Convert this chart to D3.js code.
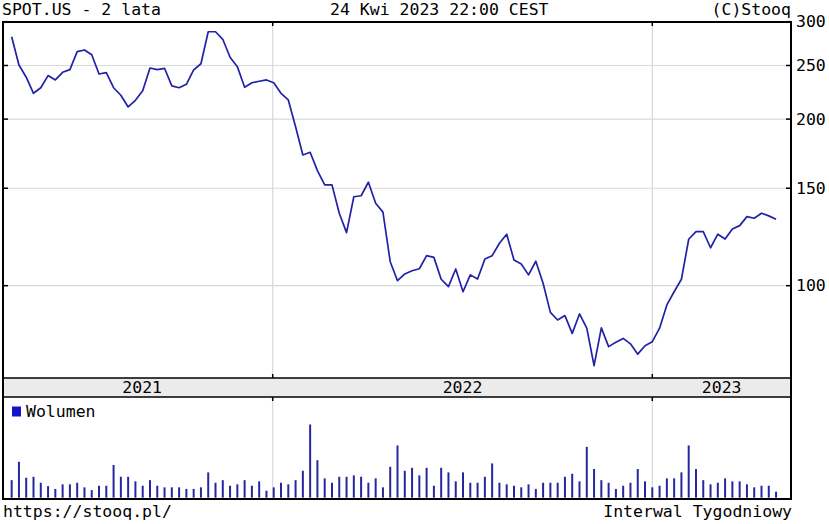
<!DOCTYPE html>
<html><head><meta charset="utf-8">
<script src="https://cdn.jsdelivr.net/npm/d3@7"></script>
<style>
html,body{margin:0;padding:0;background:#fff;}
svg{display:block;}
text{font-family:"DejaVu Sans Mono",monospace;font-size:16.5px;fill:#000;}
</style></head>
<body>
<svg id="c" width="829" height="524"></svg>
<script>
// ---- data ----
const title = "SPOT.US - 2 lata";
const stamp = "24 Kwi 2023 22:00 CEST";
const credit = "(C)Stooq";
const footLeft = "https://stooq.pl/";
const footRight = "Interwal Tygodniowy";
const volumeLabel = "Wolumen";
const priceTicks = [100, 150, 200, 250, 300];
const years = [2021, 2022, 2023];
const firstWeek = Date.UTC(2021, 3, 25); // weekly points (week ends)
const close = [
281.8,250.5,238.1,222.7,227.9,239.7,235.4,243.0,245.7,264.8,
266.7,261.5,241.3,242.7,227.9,220.9,210.4,216.3,225.1,247.4,
245.7,247.1,229.6,227.9,231.2,245.4,251.8,287.7,287.7,278.8,
258.7,248.8,228.3,232.7,234.1,235.4,232.7,222.7,216.6,193.8,
172.3,174.2,161.4,152.1,152.1,135.2,124.7,144.8,145.4,153.8,
140.9,135.8,110.5,102.1,105.0,106.4,107.3,113.3,112.5,102.7,
99.6,107.2,97.5,104.6,102.8,111.7,113.3,119.3,123.9,111.3,
109.4,104.6,110.7,101.0,89.5,86.7,88.3,82.0,88.9,83.8,
71.7,83.9,77.6,79.0,80.3,78.5,75.2,77.9,79.2,83.8,
92.3,97.5,102.7,121.3,125.2,125.2,117.1,123.9,121.4,126.6,
128.4,133.3,132.4,135.2,133.7,131.8];
const volume = [ // millions of shares
4.4,9.0,5.0,5.25,3.75,2.9,2.2,3.35,3.35,3.75,
2.6,1.9,3.0,3.0,8.2,5.25,5.25,4.1,3.0,4.4,
3.0,2.6,2.6,2.6,2.2,2.2,2.6,6.35,3.75,4.4,
3.0,3.35,4.4,3.0,4.1,1.75,2.6,3.75,3.35,4.4,
6.75,18.35,9.4,4.85,3.75,5.25,5.25,5.6,5.25,3.75,
4.85,2.6,7.75,13.1,6.75,7.5,5.6,7.5,3.0,7.5,
6.35,4.1,6.35,3.75,3.75,5.25,8.6,3.75,3.35,3.0,
2.6,3.35,2.2,3.75,3.75,3.75,5.25,6.0,4.1,12.75,
7.2,4.4,3.75,2.2,3.0,3.75,7.2,4.1,2.6,3.0,
4.85,4.85,6.35,13.1,7.2,4.4,3.35,3.75,4.85,4.1,
4.1,3.35,2.6,3.0,3.0,1.5];

const dates = close.map((_, i) => new Date(firstWeek + i * 7 * 864e5));

// ---- layout ----
const L = 3, R = 791, T = 22, PB = 378, BB = 397, VB = 499;
const lineColor = "#2222a8", gridColor = "#d9d9d9";

const svg = d3.select("#c");

const x = d3.scaleUtc()
  .domain([new Date(Date.UTC(2022, 0, 1)), new Date(Date.UTC(2023, 0, 1))])
  .range([272.7, 652.3]);
const y = d3.scaleLog().domain([68.1, 299.6]).range([PB, T]);
const yv = d3.scaleLinear().domain([0, 25.5]).range([VB - 1.3, BB - 1]);

// grid - horizontal
svg.append("g").selectAll("line").data(priceTicks.filter(t => t < 300)).join("line")
  .attr("x1", L).attr("x2", R)
  .attr("y1", d => y(d)).attr("y2", d => y(d))
  .attr("stroke", gridColor).attr("stroke-width", 1.2);

// year boundaries
const yearLines = years.slice(1).map(yr => new Date(Date.UTC(yr, 0, 1)));
const vg = svg.append("g");
yearLines.forEach(d => {
  const xx = x(d);
  vg.append("line").attr("x1", xx).attr("x2", xx).attr("y1", T).attr("y2", PB)
    .attr("stroke", gridColor).attr("stroke-width", 1.2);
  vg.append("line").attr("x1", xx).attr("x2", xx).attr("y1", BB).attr("y2", VB)
    .attr("stroke", gridColor).attr("stroke-width", 1.2);
  [[T, T + 4], [PB - 4, PB], [BB, BB + 4]].forEach(([a, b]) =>
    vg.append("line").attr("x1", xx).attr("x2", xx).attr("y1", a).attr("y2", b)
      .attr("stroke", "#000").attr("stroke-width", 1.5));
});

// year band
svg.append("rect").attr("x", L).attr("y", PB).attr("width", R - L).attr("height", BB - PB)
  .attr("fill", "#ebebeb").attr("stroke", "#000").attr("stroke-width", 1.5);
const xStart = x(dates[0]);
svg.append("g").selectAll("text").data(years).join("text")
  .attr("x", yr => {
    const a = Math.max(xStart, x(new Date(Date.UTC(yr, 0, 1))));
    const b = Math.min(R, x(new Date(Date.UTC(yr + 1, 0, 1))));
    return (a + b) / 2;
  })
  .attr("y", 393).attr("text-anchor", "middle").text(d => d);

// volume bars
svg.append("g").selectAll("line").data(volume).join("line")
  .attr("x1", (d, i) => x(dates[i])).attr("x2", (d, i) => x(dates[i]))
  .attr("y1", yv(0)).attr("y2", d => yv(d))
  .attr("stroke", "#2626a0").attr("stroke-width", 2);

// price line
svg.append("defs").append("clipPath").attr("id", "pc")
  .append("rect").attr("x", L).attr("y", T).attr("width", R - L).attr("height", PB - T);
svg.append("path").datum(close)
  .attr("clip-path", "url(#pc)")
  .attr("fill", "none").attr("stroke", lineColor).attr("stroke-width", 1.7)
  .attr("stroke-linejoin", "round")
  .attr("d", d3.line().x((d, i) => x(dates[i])).y(d => y(d)));

// outer frame
svg.append("rect").attr("x", L).attr("y", T).attr("width", R - L).attr("height", VB - T)
  .attr("fill", "none").attr("stroke", "#000").attr("stroke-width", 2);

// y ticks: left inward, right axis
const tg = svg.append("g");
priceTicks.forEach(t => {
  const yy = y(t);
  tg.append("line").attr("x1", L).attr("x2", L + 5).attr("y1", yy).attr("y2", yy)
    .attr("stroke", "#000").attr("stroke-width", 1.5);
  tg.append("line").attr("x1", R - 5).attr("x2", R).attr("y1", yy).attr("y2", yy)
    .attr("stroke", "#000").attr("stroke-width", 1.5);
  tg.append("text").attr("x", R + 5).attr("y", yy + 5.5).text(t);
});

// legend
svg.append("rect").attr("x", 12).attr("y", 406.5).attr("width", 9).attr("height", 10)
  .attr("fill", "#1414c8");
svg.append("text").attr("x", 26).attr("y", 417).text(volumeLabel);

// header / footer
svg.append("text").attr("x", 2).attr("y", 15).text(title);
svg.append("text").attr("x", 330).attr("y", 15).text(stamp);
svg.append("text").attr("x", 791).attr("y", 15).attr("text-anchor", "end").text(credit);
svg.append("text").attr("x", 3).attr("y", 517).text(footLeft);
svg.append("text").attr("x", 792).attr("y", 517).attr("text-anchor", "end").text(footRight);
</script>
</body></html>
